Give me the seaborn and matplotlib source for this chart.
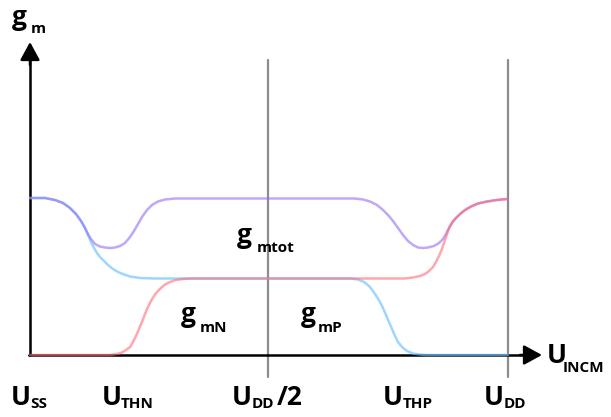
import matplotlib
matplotlib.use("Agg")
import matplotlib.pyplot as plt
import seaborn as sns
import pandas as pd

# ---- data (u: input common-mode voltage, gm: transconductance, arbitrary units) ----
u_p = [0, 15, 25, 33, 40, 46, 51, 55, 58, 61, 64, 67, 70, 74, 78, 83, 88, 94, 100, 110, 125,
       320, 328, 334, 339, 343, 347, 350, 353, 356, 359, 362, 365, 368, 372, 377, 383, 390,
       396, 478]
gm_p = [157, 157, 155, 152, 147, 141, 134, 127, 120, 113, 107, 102, 98, 94, 90, 86, 83, 80.5,
        78.5, 77, 76.5, 76.5, 75.5, 73, 69, 64, 58, 53, 47, 40, 33, 26, 19, 13, 8, 4, 1.5, 0.5,
        0, 0]

u_tot = [0, 15, 25, 33, 40, 46, 51, 55, 58, 61, 65, 70, 75, 80, 85, 90, 95, 100, 104, 108,
         112, 117, 122, 128, 135, 145, 157, 325, 333, 340, 347, 353, 358, 363, 368, 373, 378,
         383, 388, 393, 398, 404, 409, 413, 416, 419, 422, 426, 430, 435, 441, 448, 457, 467,
         477]
gm_tot = [157, 157, 155, 152, 147, 141, 134, 127, 121, 116, 111, 108.5, 107.5, 107, 107.5, 109,
          112, 118, 124, 131, 138, 145, 150, 153.5, 155.5, 156.5, 156.5, 156.5, 155.5, 153.5,
          150, 145, 140, 134, 127, 120, 114, 110, 107.5, 107, 107.5, 109, 112, 116, 121, 127,
          132, 137, 141, 145, 148.5, 151.5, 153.5, 155, 156]

u_n = [0, 80, 87, 92, 96, 100, 103, 106, 109, 112, 115, 118, 121, 124, 127, 131, 135, 140,
       146, 153, 162, 175, 375, 383, 390, 395, 399, 403, 406, 409, 412, 414, 416, 418, 420,
       423, 427, 433, 440, 448, 457, 467, 477]
gm_n = [0, 0, 1, 2.5, 5, 8, 13, 19, 26, 33, 41, 48, 54, 59, 63, 67, 70.5, 73, 75, 76, 76.5,
        76.5, 76.5, 77.5, 79, 81, 84, 88, 93, 99, 106, 112, 118, 124, 129, 134, 138, 143.5,
        148, 151.5, 153.5, 155, 156]

u_marks = [238, 478]          # U_DD/2 and U_DD guide lines

sns.set_style("white")
plt.rcParams['font.family'] = ['Open Sans', 'DejaVu Sans']

fig = plt.figure(figsize=(6.11, 4.17), dpi=100)
ax = fig.add_axes([0, 0, 1, 1])

# guide lines
for um in u_marks:
    ax.plot([um, um], [-22, 295], color='#8c8c8c', lw=1.6, zorder=1)

# axes with arrows
ax.plot([-1.5, 0, 0], [0, 0, 295], color='black', lw=1.8, zorder=2)
ax.plot([-1.5, 496], [0, 0], color='black', lw=1.8, zorder=2)
ax.annotate('', xy=(0, 313), xytext=(0, 290),
            arrowprops=dict(arrowstyle='-|>,head_length=1.1,head_width=0.6',
                            color='black', lw=1.8, shrinkA=0, shrinkB=0), zorder=2)
ax.annotate('', xy=(512, 0), xytext=(490, 0),
            arrowprops=dict(arrowstyle='-|>,head_length=1.1,head_width=0.6',
                            color='black', lw=1.8, shrinkA=0, shrinkB=0), zorder=2)

# curves
df_p = pd.DataFrame({'u': u_p, 'gm': gm_p})
df_t = pd.DataFrame({'u': u_tot, 'gm': gm_tot})
df_n = pd.DataFrame({'u': u_n, 'gm': gm_n})
kw = dict(sort=False, ax=ax, lw=1.8, zorder=3, solid_joinstyle='round', solid_capstyle='round')
sns.lineplot(data=df_p, x='u', y='gm', color='#6cc0ff', alpha=0.65, **kw)
sns.lineplot(data=df_t, x='u', y='gm', color='#946ff2', alpha=0.6, **kw)
sns.lineplot(data=df_n, x='u', y='gm', color='#ff6b78', alpha=0.6, **kw)
ax.set_xlim(-30, 581)
ax.set_ylim(-62, 355)
ax.axis('off')

BIG = 19
SUB = 11
def lab(x, y, s, size):
    ax.text(x, y, s, fontsize=size, fontweight='bold', ha='left', va='baseline',
            color='black', zorder=5)

# y-axis label
lab(-18, 330, 'g', BIG); lab(1, 322, 'm', SUB)
# curve labels
lab(207, 112, 'g', BIG); lab(227, 103, 'mtot', SUB)
lab(151, 33, 'g', BIG); lab(170, 23, 'mN', SUB)
lab(271, 33, 'g', BIG); lab(288, 23, 'mP', SUB)
# x-axis label
lab(517, -8, 'U', BIG); lab(533, -17, 'INCM', SUB)
# tick labels
lab(-19, -50, 'U', BIG); lab(0, -53, 'SS', SUB)
lab(72, -50, 'U', BIG); lab(91, -53, 'THN', SUB)
lab(202, -50, 'U', BIG); lab(222, -53, 'DD', SUB); lab(247, -50, '/2', BIG)
lab(353, -50, 'U', BIG); lab(373, -53, 'THP', SUB)
lab(454, -50, 'U', BIG); lab(474, -53, 'DD', SUB)

fig.savefig('out.png', dpi=100)
